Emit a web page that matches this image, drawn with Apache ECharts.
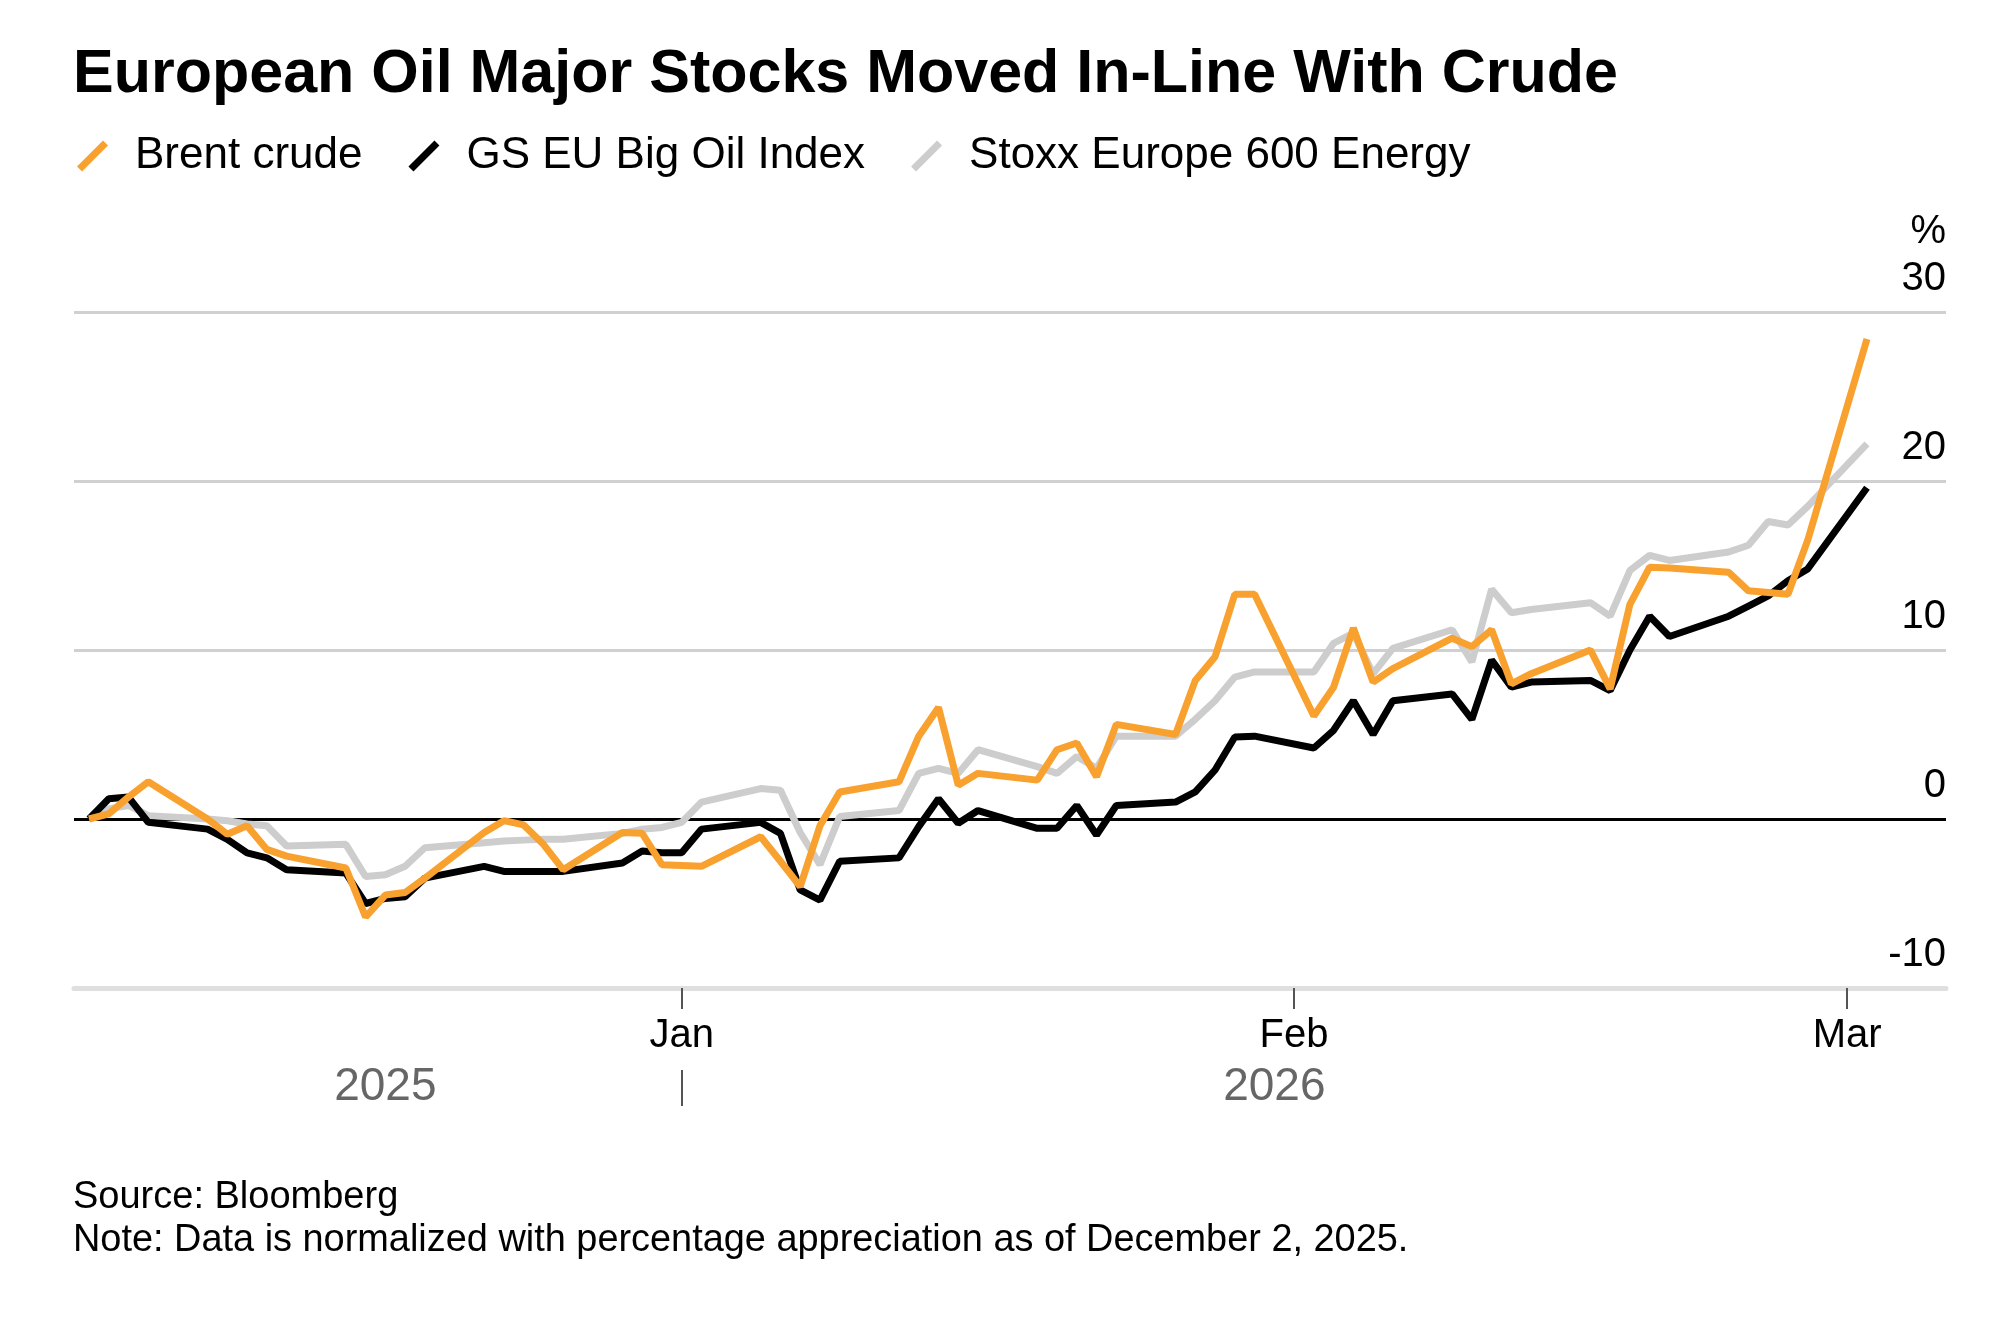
<!DOCTYPE html>
<html><head><meta charset="utf-8">
<script src="https://cdn.jsdelivr.net/npm/echarts@6/dist/echarts.min.js"></script>
<style>html,body{margin:0;padding:0;background:#fff;} #chart{width:2000px;height:1344px;}</style>
</head><body><div id="chart"></div>
<script>
const dates = ['2025-12-02','2025-12-03','2025-12-04','2025-12-05','2025-12-08','2025-12-09','2025-12-10','2025-12-11','2025-12-12','2025-12-15','2025-12-16','2025-12-17','2025-12-18','2025-12-19','2025-12-22','2025-12-23','2025-12-24','2025-12-25','2025-12-26','2025-12-29','2025-12-30','2025-12-31','2026-01-01','2026-01-02','2026-01-05','2026-01-06','2026-01-07','2026-01-08','2026-01-09','2026-01-12','2026-01-13','2026-01-14','2026-01-15','2026-01-16','2026-01-19','2026-01-20','2026-01-21','2026-01-22','2026-01-23','2026-01-26','2026-01-27','2026-01-28','2026-01-29','2026-01-30','2026-02-02','2026-02-03','2026-02-04','2026-02-05','2026-02-06','2026-02-09','2026-02-10','2026-02-11','2026-02-12','2026-02-13','2026-02-16','2026-02-17','2026-02-18','2026-02-19','2026-02-20','2026-02-23','2026-02-24','2026-02-25','2026-02-26','2026-02-27','2026-03-02'];

const brent = [0,0.3,1.3,2.2, 0.0,-0.9,-0.4,-1.8,-2.2, -2.9,-5.8,-4.5,-4.35,-3.5, -0.8,-0.1,-0.35,-1.5,-3.0, -0.8,-0.85,-2.7,
  -2.75,-2.8, -1.05,-2.5,-4.0,-0.4,1.6, 2.2,4.9,6.6,2.0,2.7, 2.3,4.1,4.5,2.5,5.6, 5.0,8.2,9.6,13.3,13.3,
  6.1,7.8,11.3,8.1,8.9, 10.7,10.2,11.2,8.0,8.6, 10.0,7.7,12.7,14.9,14.85, 14.6,13.5,13.4,13.3,16.5,
  28.4];

const gsBigOil = [0,1.2,1.3,-0.2, -0.6,-1.2,-2.0,-2.3,-3.0, -3.2,-5.0,-4.7,-4.6,-3.5, -2.8,-3.1,-3.1,-3.1,-3.1, -2.6,-1.9,-2.0,
  -2.0,-0.6, -0.2,-0.85,-4.2,-4.8,-2.5, -2.3,-0.45,1.2,-0.25,0.5, -0.55,-0.55,0.8,-0.95,0.8, 1.0,1.6,2.9,4.85,4.9,
  4.2,5.25,7.0,5.0,7.0, 7.4,5.9,9.4,7.8,8.1, 8.2,7.6,10.0,12.0,10.8, 12.0,12.6,13.2,14.1,14.8,
  19.6];

const stoxxEnergy = [0,0.6,0.8,0.2, 0.0,-0.1,-0.3,-0.4,-1.6, -1.5,-3.4,-3.3,-2.8,-1.7, -1.4,-1.3,-1.25,-1.2,-1.2, -0.85,-0.6,-0.5,
  -0.2,1.0, 1.8,1.7,-0.8,-2.7,0.15, 0.5,2.7,3.0,2.7,4.1, 3.1,2.7,3.7,3.0,4.9, 4.9,5.9,7.0,8.4,8.7,
  8.7,10.4,11.0,8.6,10.1, 11.2,9.3,13.6,12.2,12.4, 12.8,12.0,14.7,15.6,15.3, 15.8,16.2,17.6,17.4,18.5,
  22.2];

const seriesNames = ['Brent crude','GS EU Big Oil Index','Stoxx Europe 600 Energy'];
const monthTicks = ['2026-01-01','2026-02-01','2026-03-01'];
const monthLabels = ['Jan','Feb','Mar'];
const yearLabelDates = ['2025-12-17','2026-01-31'];
const yearLabels = ['2025','2026'];
const yearBreak = ['2026-01-01'];

function ts(s){ const p = s.split(/[- :]/).map(Number); return new Date(p[0], p[1]-1, p[2], p[3]||0, p[4]||0).getTime(); }
const FONT = '"Liberation Sans", Arial, sans-serif';
const ORANGE = '#f9a12f', BLACK = '#000000', GRAY = '#cdcdcd';
const xMin = ts('2025-12-01 05:45'), xMax = ts('2026-03-06');

const monthTs = monthTicks.map(ts);
const yearTs = yearLabelDates.map(ts);
const breakTs = yearBreak.map(ts);

function nearestIndex(arr, v){ let b=-1, bd=Infinity; arr.forEach((a,i)=>{const d=Math.abs(a-v); if(d<bd){bd=d;b=i;}}); return bd<3600e3*12?b:-1; }

const chart = echarts.init(document.getElementById('chart'), null, {renderer:'canvas'});
const slash = 'path://M0,26 L26,0 L31,5 L5,31 Z';
chart.setOption({
  backgroundColor:'#fff',
  animation:false,
  textStyle:{fontFamily:FONT},
  title:[
    {text:'European Oil Major Stocks Moved In-Line With Crude', left:73, top:45, padding:0,
     textStyle:{fontSize:61, fontWeight:'bold', color:'#000', fontFamily:FONT}},
    {text:'Source: Bloomberg', left:73, top:1179, padding:0,
     textStyle:{fontSize:38, fontWeight:'normal', color:'#000', fontFamily:FONT}},
    {text:'Note: Data is normalized with percentage appreciation as of December 2, 2025.', left:73, top:1222, padding:0,
     textStyle:{fontSize:37.9, fontWeight:'normal', color:'#000', fontFamily:FONT}}
  ],
  legend:{
    left:77, top:134, padding:0, itemWidth:31, itemHeight:31, itemGap:46,
    data:[
      {name:seriesNames[0], icon:slash, itemStyle:{color:ORANGE}},
      {name:seriesNames[1], icon:slash, itemStyle:{color:BLACK}},
      {name:seriesNames[2], icon:slash, itemStyle:{color:GRAY}}
    ],
    textStyle:{fontSize:44, color:'#000', fontFamily:FONT, padding:[0,0,0,22]},
    selectedMode:false
  },
  grid:{left:74, right:54, top:312, bottom:356, containLabel:false},
  xAxis:[
    {type:'value', min:xMin, max:xMax, position:'bottom', scale:true,
     axisLine:{show:true, onZero:false, lineStyle:{color:'#dfdfdf', width:5}},
     axisTick:{show:true, customValues:monthTs, length:21, lineStyle:{color:'#555', width:2}},
     axisLabel:{show:true, customValues:monthTs, margin:28, fontSize:40, color:'#000', fontFamily:FONT,
       formatter:function(v){ const i=nearestIndex(monthTs, v); return i>=0?monthLabels[i]:''; }},
     splitLine:{show:false}},
    {type:'value', min:xMin, max:xMax, position:'bottom', offset:82, scale:true,
     axisLine:{show:false, onZero:false},
     axisTick:{show:true, customValues:breakTs, length:36, lineStyle:{color:'#555', width:2}},
     axisLabel:{show:true, customValues:yearTs, margin:17, verticalAlign:'middle', fontSize:46, color:'#666', fontFamily:FONT,
       formatter:function(v){ const i=nearestIndex(yearTs, v); return i>=0?yearLabels[i]:''; }},
     splitLine:{show:false}}
  ],
  yAxis:{type:'value', min:-10, max:30, interval:10, position:'right',
    name:'%', nameLocation:'end', nameGap:80,
    nameTextStyle:{fontSize:40, color:'#000', align:'right', verticalAlign:'middle', fontFamily:FONT},
    axisLine:{show:false}, axisTick:{show:false},
    axisLabel:{inside:true, margin:0, align:'right', verticalAlign:'bottom', padding:[0,0,13,0], fontSize:40, color:'#000', fontFamily:FONT},
    splitLine:{show:true, lineStyle:{color:'#d0d0d0', width:3}}
  },
  series:[
    {name:seriesNames[2], type:'line', xAxisIndex:0, showSymbol:false, symbol:'none', data:dates.map((d,i)=>[ts(d), stoxxEnergy[i]]),
     lineStyle:{color:GRAY, width:7}, itemStyle:{color:GRAY}, z:2,
     markLine:{silent:true, symbol:'none', label:{show:false}, lineStyle:{color:'#000', width:3, type:'solid'}, data:[{yAxis:0}], z:1}},
    {name:seriesNames[1], type:'line', xAxisIndex:0, showSymbol:false, symbol:'none', data:dates.map((d,i)=>[ts(d), gsBigOil[i]]),
     lineStyle:{color:BLACK, width:7}, itemStyle:{color:BLACK}, z:3},
    {name:seriesNames[0], type:'line', xAxisIndex:0, showSymbol:false, symbol:'none', data:dates.map((d,i)=>[ts(d), brent[i]]),
     lineStyle:{color:ORANGE, width:7}, itemStyle:{color:ORANGE}, z:4}
  ]
});
</script></body></html>
